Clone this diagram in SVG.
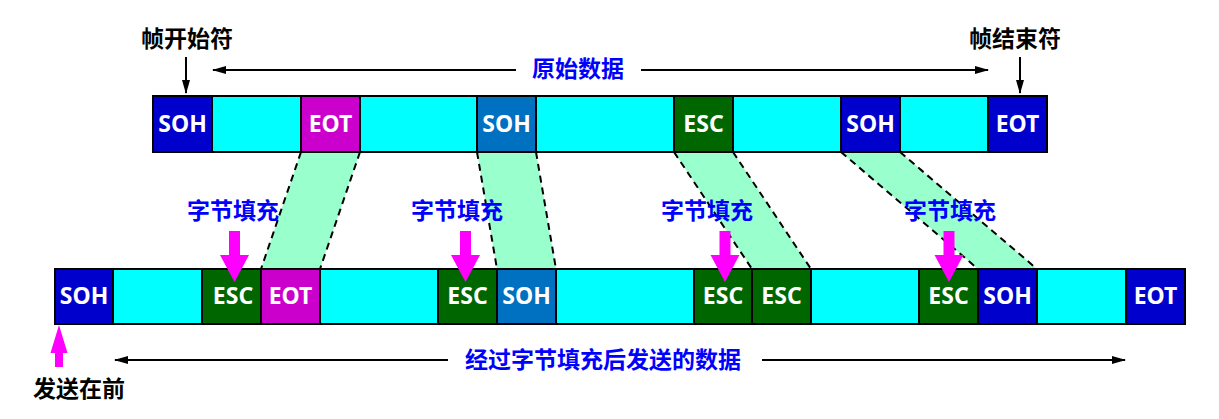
<svg xmlns="http://www.w3.org/2000/svg" width="1219" height="419" viewBox="0 0 1219 419">
<style>
.cell{stroke:#000;stroke-width:2}
.cy{fill:#00FFFF}
.soh{fill:#0000CC}
.soh2{fill:#0070C0}
.eot{fill:#CC00CC}
.esc{fill:#006600}
.bt{font-family:"Noto Sans","Noto Sans CJK SC",sans-serif;font-weight:bold;font-size:23px;fill:#fff;text-anchor:middle}
.cn{font-family:"Noto Sans CJK SC",sans-serif;font-weight:bold;font-size:23px;text-anchor:middle}
.blue{fill:#0000FF}
.blk{fill:#000}
.band{fill:#99FFCC;stroke:none}
.dash{stroke:#000;stroke-width:2;stroke-dasharray:7,5;fill:none}
.ln{stroke:#000;stroke-width:2;fill:none}
.mg{fill:#FF00FF}
</style>
<defs>
<marker id="ah" markerWidth="14" markerHeight="10" refX="13" refY="5" orient="auto" markerUnits="userSpaceOnUse">
<path d="M0,1 L14,5 L0,9 Z" fill="#000"/>
</marker>
</defs>

<g id="connectors">
<polygon class="band" points="301,152 360,152 320,269 261,269"/>
<line class="dash" x1="301" y1="152" x2="261" y2="269"/>
<line class="dash" x1="360" y1="152" x2="320" y2="269"/>
<polygon class="band" points="477,152 536,152 556,269 497,269"/>
<line class="dash" x1="477" y1="152" x2="497" y2="269"/>
<line class="dash" x1="536" y1="152" x2="556" y2="269"/>
<polygon class="band" points="674,152 733,152 811,269 752,269"/>
<line class="dash" x1="674" y1="152" x2="752" y2="269"/>
<line class="dash" x1="733" y1="152" x2="811" y2="269"/>
<polygon class="band" points="841,152 900,152 1037,269 978,269"/>
<line class="dash" x1="841" y1="152" x2="978" y2="269"/>
<line class="dash" x1="900" y1="152" x2="1037" y2="269"/>

<line class="ln" x1="186" y1="57" x2="186" y2="93" marker-end="url(#ah)"/>
<line class="ln" x1="1020" y1="57" x2="1020" y2="93" marker-end="url(#ah)"/>
<line class="ln" x1="516" y1="70" x2="213" y2="70" marker-end="url(#ah)"/>
<line class="ln" x1="641" y1="70" x2="988" y2="70" marker-end="url(#ah)"/>
<line class="ln" x1="448" y1="360" x2="115" y2="360" marker-end="url(#ah)"/>
<line class="ln" x1="762" y1="360" x2="1125" y2="360" marker-end="url(#ah)"/>
</g>

<g id="top-frame">
<rect class="cell soh" x="153" y="96" width="59" height="56"/>
<rect class="cell cy" x="212" y="96" width="89" height="56"/>
<rect class="cell eot" x="301" y="96" width="59" height="56"/>
<rect class="cell cy" x="360" y="96" width="117" height="56"/>
<rect class="cell soh2" x="477" y="96" width="59" height="56"/>
<rect class="cell cy" x="536" y="96" width="138" height="56"/>
<rect class="cell esc" x="674" y="96" width="59" height="56"/>
<rect class="cell cy" x="733" y="96" width="108" height="56"/>
<rect class="cell soh" x="841" y="96" width="59" height="56"/>
<rect class="cell cy" x="900" y="96" width="88" height="56"/>
<rect class="cell soh" x="988" y="96" width="59" height="56"/>
<text class="bt" x="182.5" y="132">SOH</text>
<text class="bt" x="330.5" y="132">EOT</text>
<text class="bt" x="506.5" y="132">SOH</text>
<text class="bt" x="703.5" y="132">ESC</text>
<text class="bt" x="870.5" y="132">SOH</text>
<text class="bt" x="1017.5" y="132">EOT</text>
</g>

<g id="bottom-frame">
<rect class="cell soh" x="55" y="269" width="58" height="55"/>
<rect class="cell cy" x="113" y="269" width="89" height="55"/>
<rect class="cell esc" x="202" y="269" width="59" height="55"/>
<rect class="cell eot" x="261" y="269" width="59" height="55"/>
<rect class="cell cy" x="320" y="269" width="118" height="55"/>
<rect class="cell esc" x="438" y="269" width="59" height="55"/>
<rect class="cell soh2" x="497" y="269" width="59" height="55"/>
<rect class="cell cy" x="556" y="269" width="138" height="55"/>
<rect class="cell esc" x="694" y="269" width="58" height="55"/>
<rect class="cell esc" x="752" y="269" width="59" height="55"/>
<rect class="cell cy" x="811" y="269" width="108" height="55"/>
<rect class="cell esc" x="919" y="269" width="59" height="55"/>
<rect class="cell soh" x="978" y="269" width="59" height="55"/>
<rect class="cell cy" x="1037" y="269" width="89" height="55"/>
<rect class="cell soh" x="1126" y="269" width="59" height="55"/>
<text class="bt" x="84" y="304">SOH</text>
<text class="bt" x="233" y="304">ESC</text>
<text class="bt" x="290.5" y="304">EOT</text>
<text class="bt" x="467.5" y="304">ESC</text>
<text class="bt" x="526.5" y="304">SOH</text>
<text class="bt" x="723" y="304">ESC</text>
<text class="bt" x="781.5" y="304">ESC</text>
<text class="bt" x="948.5" y="304">ESC</text>
<text class="bt" x="1007.5" y="304">SOH</text>
<text class="bt" x="1155.5" y="304">EOT</text>
</g>

<g id="labels">
<text class="cn blk" x="187" y="47">帧开始符</text>
<text class="cn blk" x="1015" y="47">帧结束符</text>
<text class="cn blue" x="578" y="77">原始数据</text>
<text class="cn blue" x="603" y="368">经过字节填充后发送的数据</text>
<text class="cn blk" x="79" y="397">发送在前</text>
</g>

<g id="stuff-1">
<text class="cn blue" x="233" y="219">字节填充</text>
<path class="mg" d="M229,231 H240 V255 H249 L234.5,282 L220,255 H229 Z"/>
</g>
<g id="stuff-2">
<text class="cn blue" x="457" y="219">字节填充</text>
<path class="mg" d="M460,231 H471 V255 H480 L465.5,282 L451,255 H460 Z"/>
</g>
<g id="stuff-3">
<text class="cn blue" x="707" y="219">字节填充</text>
<path class="mg" d="M719.5,231 H730.5 V255 H739.5 L725,282 L710.5,255 H719.5 Z"/>
</g>
<g id="stuff-4">
<text class="cn blue" x="950" y="219">字节填充</text>
<path class="mg" d="M943.5,231 H954.5 V255 H963.5 L949,282 L934.5,255 H943.5 Z"/>
</g>
<g id="send-first">
<path class="mg" d="M59,325 L67.5,353 H63 V367 H55 V353 H50.5 Z"/>
</g>
</svg>
